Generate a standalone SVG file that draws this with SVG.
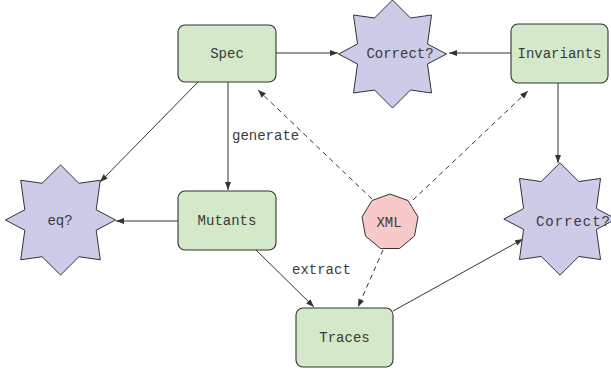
<svg xmlns="http://www.w3.org/2000/svg" width="611" height="375" viewBox="0 0 611 375">
<style>
.box{fill:#d3e9c9;stroke:#333;stroke-width:1.1}
.star{fill:#cccce8;stroke:#333;stroke-width:1}
.oct{fill:#f7c9c9;stroke:#333;stroke-width:1}
.t{font-family:"Liberation Mono","DejaVu Sans Mono",monospace;font-size:14px;fill:#3a3a3a;text-anchor:middle}
.lbl{font-family:"Liberation Mono","DejaVu Sans Mono",monospace;font-size:14px;fill:#3a3a3a}
.e{fill:none;stroke:#333;stroke-width:1;marker-end:url(#ah)}
.d{stroke-dasharray:5,4}
</style>
<defs>
<marker id="ah" markerWidth="8" markerHeight="6" refX="8" refY="3" orient="auto" markerUnits="userSpaceOnUse">
<path d="M0,0 L8,3 L0,6 z" fill="#333"/>
</marker>
<polygon id="starShape" points="0,-54 18,-36 39,-39 35,-10 54,0 35,10 39,39 18,36 0,54 -18,36 -39,39 -35,10 -54,0 -35,-10 -39,-39 -18,-36"/>
</defs>
<g id="connectors">
<line class="e" x1="276" y1="53" x2="338" y2="53"/>
<line class="e" x1="511" y1="53" x2="449" y2="53"/>
<line class="e" x1="198" y1="82" x2="100" y2="182"/>
<line class="e" x1="228" y1="82" x2="228" y2="190"/>
<line class="e" x1="178" y1="221" x2="116" y2="221"/>
<line class="e" x1="558" y1="83" x2="558" y2="163"/>
<line class="e" x1="256" y1="250" x2="314" y2="307"/>
<line class="e" x1="393" y1="311" x2="523" y2="239"/>
<line class="e d" x1="372" y1="199" x2="258" y2="90"/>
<line class="e d" x1="413" y1="200" x2="528" y2="91"/>
<line class="e d" x1="383" y1="250" x2="358" y2="307"/>
<text class="lbl" x="232" y="140">generate</text>
<text class="lbl" x="292" y="274">extract</text>
</g>
<g id="spec">
<rect class="box" x="178" y="25" width="98" height="57" rx="7"/>
<text class="t" x="227" y="58">Spec</text>
</g>
<g id="invariants">
<rect class="box" x="511" y="24" width="97" height="59" rx="7"/>
<text class="t" x="559.5" y="58">Invariants</text>
</g>
<g id="mutants">
<rect class="box" x="178" y="191" width="98" height="59" rx="7"/>
<text class="t" x="227" y="225">Mutants</text>
</g>
<g id="traces">
<rect class="box" x="296" y="308" width="97" height="59" rx="7"/>
<text class="t" x="344.5" y="342">Traces</text>
</g>
<g id="correct-top">
<use href="#starShape" class="star" transform="translate(392.5,54)"/>
<text class="t" x="400" y="58">Correct?</text>
</g>
<g id="eq">
<use href="#starShape" class="star" transform="translate(60.5,220) scale(1.02)" style="stroke-width:0.98"/>
<text class="t" x="60" y="225">eq?</text>
</g>
<g id="correct-right">
<use href="#starShape" class="star" transform="translate(560,219) scale(1.04)" style="stroke-width:0.96"/>
<text class="t" x="573" y="226" textLength="74" lengthAdjust="spacing">Correct?</text>
</g>
<g id="xml">
<polygon class="oct" points="390,194 408,200.5 418,217 414.5,236 399.5,248.5 380.5,248.5 365.5,236 362,217 372,200.5"/>
<text class="t" x="389" y="227">XML</text>
</g>
</svg>
